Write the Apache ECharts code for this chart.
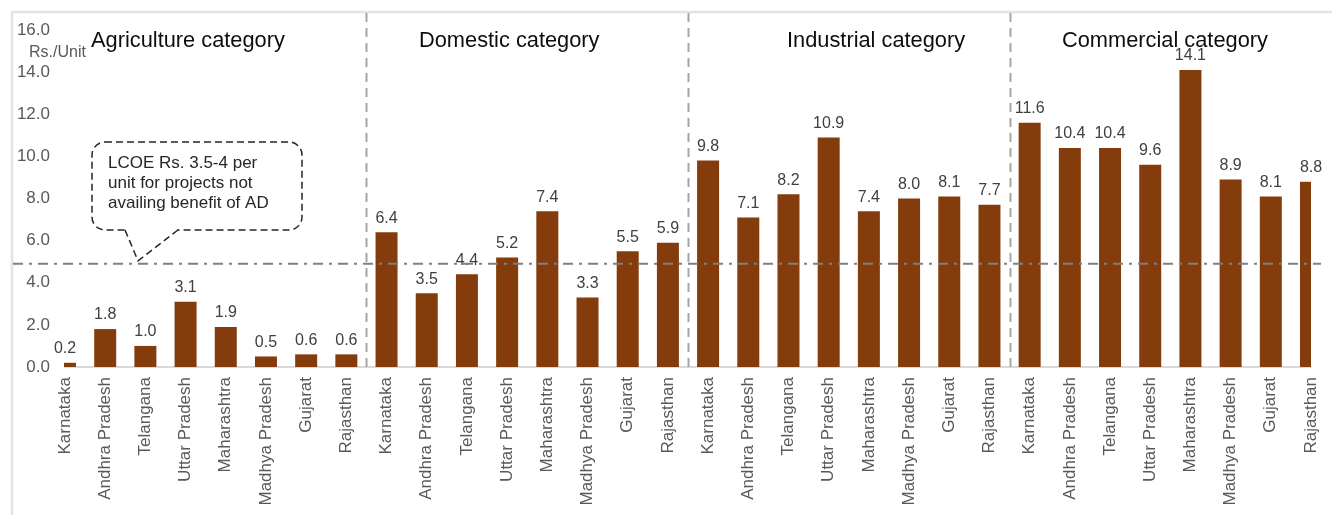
<!DOCTYPE html>
<html>
<head>
<meta charset="utf-8">
<script src="https://cdn.jsdelivr.net/npm/echarts@6/dist/echarts.min.js"></script>
<style>
html,body{margin:0;padding:0;background:#fff;}
#chart{width:1332px;height:515px;}
</style>
</head>
<body>
<div id="chart"></div>
<script>
// ---- data ----
const states = ['Karnataka','Andhra Pradesh','Telangana','Uttar Pradesh','Maharashtra','Madhya Pradesh','Gujarat','Rajasthan'];
const groupTitles = ['Agriculture category','Domestic category','Industrial category','Commercial category'];
const agriculture = [0.2, 1.8, 1.0, 3.1, 1.9, 0.5, 0.6, 0.6];
const domestic    = [6.4, 3.5, 4.4, 5.2, 7.4, 3.3, 5.5, 5.9];
const industrial  = [9.8, 7.1, 8.2, 10.9, 7.4, 8.0, 8.1, 7.7];
const commercial  = [11.6, 10.4, 10.4, 9.6, 14.1, 8.9, 8.1, 8.8];
const lcoeLine = 4.9;
const yTicks = [0, 2, 4, 6, 8, 10, 12, 14, 16];
const calloutLines = ['LCOE Rs. 3.5-4 per', 'unit for projects not', 'availing benefit of AD'];
const yUnit = 'Rs./Unit';

const categories = [].concat(states, states, states, states);
const values = [].concat(agriculture, domestic, industrial, commercial);

const FONT = '"Liberation Sans", Arial, sans-serif';
const chart = echarts.init(document.getElementById('chart'), null, {renderer: 'canvas'});

const titleLeft = [91, 419, 787, 1062];
const GRID = {left: 65, right: 21, top: 30, bottom: 148};

chart.setOption({
  animation: false,
  textStyle: {fontFamily: FONT},
  title: groupTitles.map((t, i) => ({
    text: t, left: titleLeft[i], top: 30, padding: 0,
    textStyle: {fontSize: 21.8, fontWeight: 'normal', color: '#0d0d0d', fontFamily: FONT}
  })),
  grid: Object.assign({containLabel: false}, GRID),
  xAxis: {
    type: 'category',
    data: categories,
    boundaryGap: false,
    axisLine: {show: true, lineStyle: {color: '#d9d9d9', width: 2}},
    axisTick: {show: false},
    splitLine: {show: false},
    axisLabel: {interval: 0, rotate: 90, margin: 10, fontSize: 17, color: '#595959', fontFamily: FONT}
  },
  yAxis: {
    type: 'value',
    min: yTicks[0], max: yTicks[yTicks.length - 1], interval: 2,
    axisLine: {show: false}, axisTick: {show: false}, splitLine: {show: false},
    axisLabel: {margin: 15, fontSize: 17, color: '#595959', fontFamily: FONT,
      formatter: v => v.toFixed(1)}
  },
  series: [{
    type: 'bar',
    data: values,
    barWidth: 22,
    itemStyle: {color: '#843c0c'},
    label: {show: true, position: 'top', distance: 6, fontSize: 16, color: '#404040', fontFamily: FONT,
      formatter: p => p.value.toFixed(1)}
  }]
});

// ---- annotations computed from axes ----
const xs = categories.map((c, i) => chart.convertToPixel({xAxisIndex: 0}, i));
const yLine = chart.convertToPixel({yAxisIndex: 0}, lcoeLine);
const yZero = chart.convertToPixel({yAxisIndex: 0}, 0);
const W = chart.getWidth();
const gridL = GRID.left, gridR = W - GRID.right;
const graphics = [];

// masks: the first and last bars are cut at the plot edges like in the source
const yFirst = chart.convertToPixel({yAxisIndex: 0}, values[0]);
const yLast = chart.convertToPixel({yAxisIndex: 0}, values[values.length - 1]);
graphics.push({type: 'rect', z: 15, silent: true,
  shape: {x: gridL - 14, y: yFirst - 1, width: 13, height: yZero - yFirst + 3},
  style: {fill: '#ffffff'}});
graphics.push({type: 'rect', z: 15, silent: true,
  shape: {x: gridR, y: yLast - 1, width: W - gridR, height: yZero - yLast + 3},
  style: {fill: '#ffffff'}});

// outer frame
graphics.push({type: 'rect', z: 16, silent: true,
  shape: {x: 12, y: 12, width: 1340, height: 510},
  style: {fill: 'none', stroke: '#e3e3e3', lineWidth: 2.5}});

// group separators
for (let g = 1; g < 4; g++) {
  const i = g * states.length;
  const x = Math.round((xs[i - 1] + xs[i]) / 2) + 0.5;
  graphics.push({type: 'line', z: 18, silent: true,
    shape: {x1: x, y1: 13, x2: x, y2: yZero + 3},
    style: {stroke: '#a6a6a6', lineWidth: 2, lineDash: [9, 6]}});
}

// LCOE dash-dot line
graphics.push({type: 'line', z: 20, silent: true,
  shape: {x1: 13, y1: yLine, x2: 1321, y2: yLine},
  style: {stroke: '#7f7f7f', lineWidth: 2, lineDash: [10, 6, 3, 6]}});

// callout
const bx0 = 92, bx1 = 302, by0 = 142, by1 = 230;
const tipX = 138, tipY = yLine - 3;
graphics.push({type: 'rect', z: 30, silent: true,
  shape: {x: bx0, y: by0, width: bx1 - bx0, height: by1 - by0, r: 13},
  style: {fill: '#ffffff', stroke: '#262626', lineWidth: 1.5, lineDash: [7, 4]}});
graphics.push({type: 'line', z: 31, silent: true,
  shape: {x1: 126, y1: by1, x2: 177, y2: by1},
  style: {stroke: '#ffffff', lineWidth: 4}});
graphics.push({type: 'polyline', z: 32, silent: true,
  shape: {points: [[125, by1], [tipX, tipY], [178, by1]]},
  style: {fill: 'none', stroke: '#262626', lineWidth: 1.5, lineDash: [7, 4]}});
graphics.push({type: 'text', z: 33, silent: true, left: 108, top: 153,
  style: {text: calloutLines.join('\n'), font: '17px ' + FONT, fill: '#262626', lineHeight: 20}});

// y unit label
graphics.push({type: 'text', z: 33, silent: true, left: 29, top: 45,
  style: {text: yUnit, font: '16px ' + FONT, fill: '#595959'}});

chart.setOption({graphic: graphics});
</script>
</body>
</html>
